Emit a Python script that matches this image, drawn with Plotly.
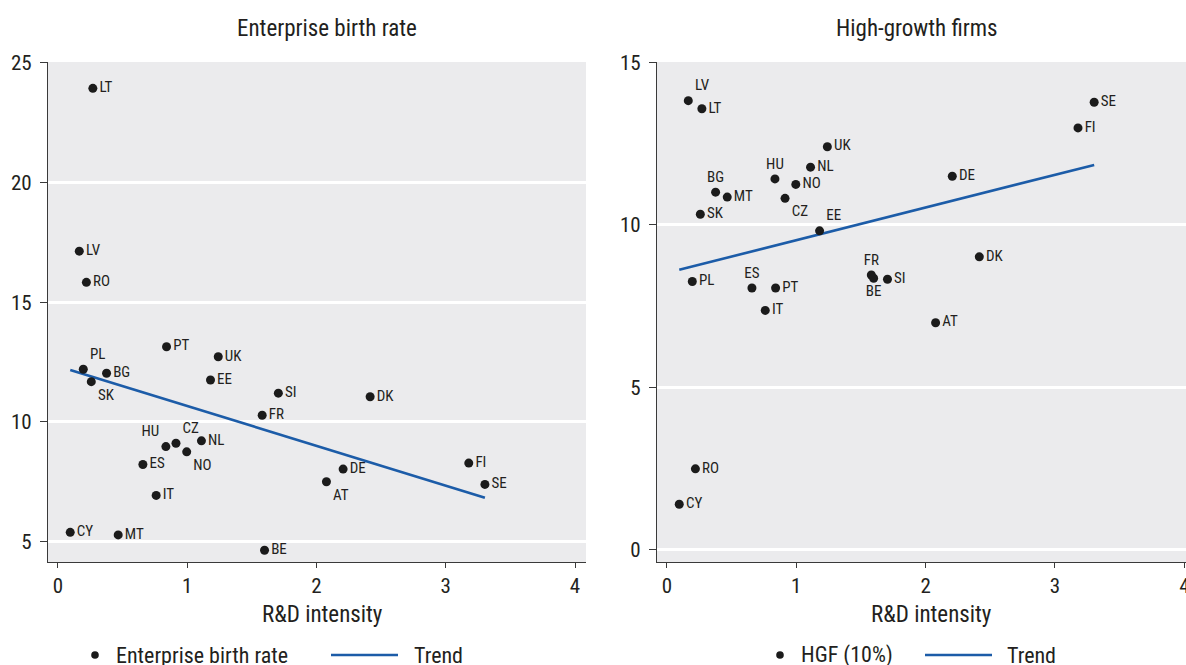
import plotly.graph_objects as go

W, H = 1186, 665
FONT = "Noto Sans Condensed, Noto Sans ExtraCondensed, Roboto Condensed, Liberation Sans, sans-serif"
INK = "#231f20"
DOT = "#1b1b1b"
TREND = "#1c5ca8"
PANEL_BG = "#ebebed"

countries = ["LT", "LV", "RO", "PL", "BG", "SK", "PT", "UK", "EE", "SI", "FR", "HU", "CZ",
             "NO", "NL", "ES", "IT", "CY", "MT", "BE", "AT", "DK", "DE", "FI", "SE"]
rd_intensity = [0.27, 0.165, 0.22, 0.196, 0.376, 0.258, 0.84, 1.24, 1.18, 1.705, 1.58, 0.835, 0.913,
                0.996, 1.11, 0.657, 0.76, 0.095, 0.466, 1.598, 2.077, 2.415, 2.206, 3.178, 3.303]
birth_rate = [23.93, 17.13, 15.83, 12.20, 12.03, 11.68, 13.14, 12.72, 11.75, 11.20, 10.28, 8.97, 9.11,
              8.75, 9.21, 8.22, 6.93, 5.39, 5.28, 4.64, 7.50, 11.05, 8.03, 8.28, 7.39]
hgf_share = [13.58, 13.83, 2.49, 8.26, 11.01, 10.33, 8.06, 12.41, 9.82, 8.33, 8.46, 11.42, 10.82,
             11.25, 11.78, 8.06, 7.37, 1.40, 10.86, 8.36, 6.99, 9.02, 11.50, 12.99, 13.78]

trend_x = [0.095, 3.303]
birth_trend = [12.17, 6.83]
hgf_trend = [8.62, 11.85]

x_ticks = [0, 1, 2, 3, 4]
birth_ticks = [5, 10, 15, 20, 25]
hgf_ticks = [0, 5, 10, 15]

MR = "middle right"
birth_label_pos = [MR, MR, MR, "top right", MR, "bottom right", MR, MR, MR, MR, MR, "top left", "top right",
                   "bottom right", MR, MR, MR, MR, MR, MR, "bottom right", MR, MR, MR, MR]
hgf_label_pos = [MR, "top right", MR, MR, "top center", MR, MR, MR, "top right", MR, "top center", "top center",
                 "bottom right", MR, MR, "top center", MR, MR, MR, "bottom center", MR, MR, MR, MR, MR]


def fx(px):
    return px / W


def fy(py):
    return 1 - py / H


fig = go.Figure()

for xa, ya, values, positions, trend in [
    ("x", "y", birth_rate, birth_label_pos, birth_trend),
    ("x2", "y2", hgf_share, hgf_label_pos, hgf_trend),
]:
    fig.add_trace(go.Scatter(
        x=trend_x, y=trend, mode="lines", xaxis=xa, yaxis=ya,
        line=dict(color=TREND, width=2.6), showlegend=False, hoverinfo="skip",
    ))
    fig.add_trace(go.Scatter(
        x=rd_intensity, y=values, mode="markers+text", xaxis=xa, yaxis=ya,
        text=countries, textposition=positions,
        textfont=dict(family=FONT, size=15, color=INK),
        marker=dict(color=DOT, size=9, line=dict(width=0)),
        cliponaxis=False, showlegend=False,
    ))

axis_common = dict(
    showline=True, linecolor="#3a3a3a", linewidth=1.2,
    ticks="outside", tickcolor="#3a3a3a", tickwidth=1.2,
    tickfont=dict(family=FONT, size=21, color=INK),
    zeroline=False, mirror=False, ticklabeloverflow="allow",
)
x_axis_style = dict(ticklen=5, showgrid=False, **axis_common)
y_axis_style = dict(ticklen=7, ticklabelstandoff=4, showgrid=True, gridcolor="white",
                    gridwidth=2.5, **axis_common)

fig.update_layout(
    width=W, height=H,
    margin=dict(l=0, r=0, t=0, b=0, autoexpand=False),
    paper_bgcolor="white", plot_bgcolor=PANEL_BG,
    showlegend=False,
    xaxis=dict(domain=[fx(48), fx(586)], range=[-0.077, 4.085], tickvals=x_ticks,
               anchor="y", **x_axis_style),
    yaxis=dict(domain=[fy(562), fy(62)], range=[4.15, 25.03], tickvals=birth_ticks,
               anchor="x", **y_axis_style),
    xaxis2=dict(domain=[fx(657), 1.0], range=[-0.077, 4.013], tickvals=x_ticks,
                anchor="y2", **x_axis_style),
    yaxis2=dict(domain=[fy(562), fy(62)], range=[-0.38, 15.02], tickvals=hgf_ticks,
                anchor="x2", **y_axis_style),
)

annotations = [
    dict(text="Enterprise birth rate", x=fx(327), y=fy(28), size=23),
    dict(text="High-growth firms", x=fx(917), y=fy(28), size=23),
    dict(text="R&D intensity", x=fx(322), y=fy(614), size=23),
    dict(text="R&D intensity", x=fx(931), y=fy(614), size=23),
]
layout_ann = []
for a in annotations:
    layout_ann.append(dict(
        text=a["text"], x=a["x"], y=a["y"], xref="paper", yref="paper",
        xanchor="center", yanchor="middle", showarrow=False,
        font=dict(family=FONT, size=a["size"], color=INK),
    ))

# legends drawn beneath each panel
legend_items = [
    (95, 114, "Enterprise birth rate", 331, 398, 412),
    (780, 799, "HGF (10%)", 925, 992, 1005),
]
shapes = []
for dot_x, txt_x, label, l0, l1, trend_txt_x in legend_items:
    ly = 655
    r = 3.8
    shapes.append(dict(type="circle", xref="paper", yref="paper",
                       x0=fx(dot_x - r), x1=fx(dot_x + r), y0=fy(ly + r), y1=fy(ly - r),
                       fillcolor=DOT, line=dict(width=0)))
    shapes.append(dict(type="line", xref="paper", yref="paper",
                       x0=fx(l0), x1=fx(l1), y0=fy(ly), y1=fy(ly),
                       line=dict(color=TREND, width=2.6)))
    layout_ann.append(dict(text=label, x=fx(txt_x), y=fy(ly), xref="paper", yref="paper",
                           xanchor="left", yanchor="middle", showarrow=False,
                           font=dict(family=FONT, size=22, color=INK)))
    layout_ann.append(dict(text="Trend", x=fx(trend_txt_x), y=fy(ly), xref="paper", yref="paper",
                           xanchor="left", yanchor="middle", showarrow=False,
                           font=dict(family=FONT, size=22, color=INK)))

fig.update_layout(annotations=layout_ann, shapes=shapes)

fig.write_html("out.html")
